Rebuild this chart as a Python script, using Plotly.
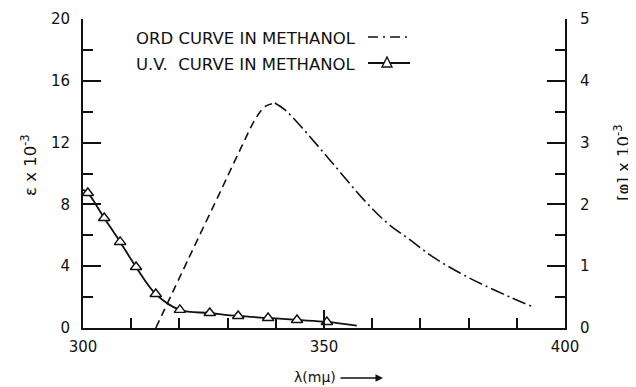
import plotly.graph_objects as go

# ---- data ----
uv_x = [301.0, 304.4, 307.7, 311.0, 315.1, 320.1, 326.3, 332.2, 338.4, 344.4, 350.6]
uv_y = [8.74, 7.12, 5.57, 3.95, 2.20, 1.17, 0.97, 0.78, 0.65, 0.52, 0.39]
uv_curve_x = [300.0, 301.0, 304.4, 307.7, 311.0, 315.1, 320.1, 326.3, 332.2, 338.4, 344.4, 350.6, 356.8]
uv_curve_y = [8.95, 8.74, 7.12, 5.57, 3.95, 2.20, 1.17, 0.97, 0.78, 0.65, 0.52, 0.39, 0.15]

ord_rise_x = [315.1, 322.0, 329.0, 333.0, 335.9, 337.9, 339.8]
ord_rise_y = [0.0, 1.14, 2.29, 2.95, 3.40, 3.59, 3.64]
ord_fall_x = [339.8, 341.9, 345.0, 351.2, 358.1, 363.1, 367.8, 372.6, 378.2, 383.0, 388.6, 393.4]
ord_fall_y = [3.64, 3.53, 3.28, 2.72, 2.09, 1.70, 1.43, 1.15, 0.89, 0.70, 0.50, 0.34]

x_range = [300, 400]
left_range = [0, 20]
right_range = [0, 5]

# page body has an 8px margin, so the figure is offset by 8px
OFF = 8
VW, VH = 636, 387
W, H = VW - OFF, VH - OFF
L, R, T, B = 83 - OFF, 71, 19 - OFF, 59
PW, PH = W - L - R, H - T - B

def px(x):
    return (x - OFF - L) / PW

def py(y):
    return (H - B - (y - OFF)) / PH

FONT = "DejaVu Sans"
BLACK = "#111111"

fig = go.Figure()

fig.add_trace(go.Scatter(x=uv_curve_x, y=uv_curve_y, mode="lines",
                         line=dict(color=BLACK, width=1.8, shape="spline"),
                         yaxis="y", showlegend=False))
fig.add_trace(go.Scatter(x=uv_x, y=uv_y, mode="markers",
                         marker=dict(symbol="triangle-up", size=10, color="white",
                                     line=dict(color=BLACK, width=1.4)),
                         yaxis="y", showlegend=False))
fig.add_trace(go.Scatter(x=ord_rise_x, y=ord_rise_y, mode="lines",
                         line=dict(color=BLACK, width=1.6, shape="spline", dash="8px,5px"),
                         yaxis="y2", showlegend=False))
fig.add_trace(go.Scatter(x=ord_fall_x, y=ord_fall_y, mode="lines",
                         line=dict(color=BLACK, width=1.6, shape="spline", dash="14px,4px,2px,4px"),
                         yaxis="y2", showlegend=False))

axis_common = dict(showgrid=False, zeroline=False, showline=True, linecolor=BLACK, linewidth=2,
                   ticks="inside", tickcolor=BLACK, tickwidth=1.5, automargin=False,
                   tickfont=dict(family=FONT, size=15, color=BLACK))

fig.update_layout(
    width=W, height=H,
    margin=dict(l=L, r=R, t=T, b=B, autoexpand=False),
    paper_bgcolor="white", plot_bgcolor="white",
    xaxis=dict(range=x_range, dtick=50, tick0=300, ticklen=18,
               minor=dict(dtick=10, ticklen=10, ticks="inside", tickcolor=BLACK, tickwidth=1.5),
               ticklabelstandoff=4, **axis_common),
    yaxis=dict(range=left_range, dtick=4, tick0=0, ticklen=18,
               minor=dict(dtick=2, ticklen=10, ticks="inside", tickcolor=BLACK, tickwidth=1.5),
               ticklabelstandoff=8, **axis_common),
    yaxis2=dict(range=right_range, dtick=1, tick0=0, ticklen=18, overlaying="y", side="right",
                minor=dict(dtick=0.5, ticklen=10, ticks="inside", tickcolor=BLACK, tickwidth=1.5),
                ticklabelstandoff=10, **axis_common),
)

ann_font = dict(family=FONT, size=16.5, color=BLACK)
annotations = [
    dict(text="ORD CURVE IN METHANOL", x=px(134), y=py(38), xref="paper", yref="paper",
         xanchor="left", yanchor="middle", showarrow=False, font=ann_font),
    dict(text="U.V.  CURVE IN METHANOL", x=px(134), y=py(64), xref="paper", yref="paper",
         xanchor="left", yanchor="middle", showarrow=False, font=ann_font),
    dict(text="\u03b5 x 10<sup>-3</sup>", x=px(29), y=py(165), xref="paper", yref="paper",
         xanchor="center", yanchor="middle", textangle=-90, showarrow=False, font=ann_font),
    dict(text="[\u03c6] x 10<sup>-3</sup>", x=px(622), y=py(163), xref="paper", yref="paper",
         xanchor="center", yanchor="middle", textangle=-90, showarrow=False, font=ann_font),
    dict(text="\u03bb(m\u03bc)", x=px(292), y=py(377), xref="paper", yref="paper",
         xanchor="left", yanchor="middle", showarrow=False, font=dict(family=FONT, size=14, color=BLACK)),
    dict(text="", x=px(383), y=py(378), xref="paper", yref="paper",
         showarrow=True, ax=-44, ay=0, arrowhead=2, arrowsize=1, arrowwidth=1.5, arrowcolor=BLACK),
]
fig.update_layout(annotations=annotations)

shapes = [
    dict(type="line", xref="paper", yref="paper", x0=px(368), x1=px(410), y0=py(37), y1=py(37),
         line=dict(color=BLACK, width=1.5, dash="10px,5px,2px,5px")),
    dict(type="line", xref="paper", yref="paper", x0=px(368), x1=px(410), y0=py(63), y1=py(63),
         line=dict(color=BLACK, width=1.8)),
    dict(type="path", xref="paper", yref="paper",
         path=f"M {px(387)},{py(57)} L {px(382)},{py(67)} L {px(392)},{py(67)} Z",
         fillcolor="white", line=dict(color=BLACK, width=1.4)),
]
fig.update_layout(shapes=shapes)

fig.write_html("out.html")
